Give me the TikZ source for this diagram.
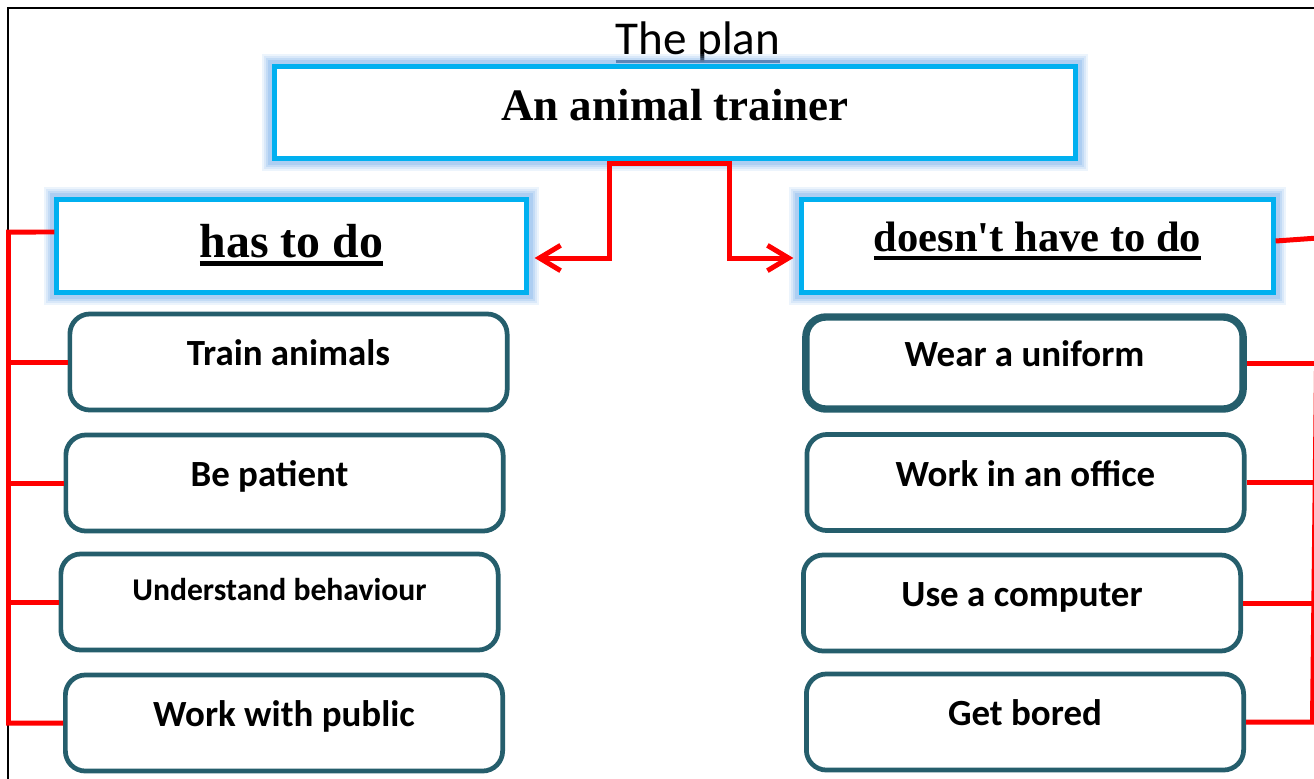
\documentclass[tikz,border=0pt]{standalone}
\usepackage{fontspec}
\setmainfont{Liberation Serif}
\newfontfamily\calibri{Carlito}
\usetikzlibrary{arrows.meta}

\definecolor{headblue}{RGB}{0,176,240}
\definecolor{glowblue}{RGB}{130,180,235}
\definecolor{boxteal}{RGB}{37,94,108}
\definecolor{wirered}{RGB}{255,0,0}
\definecolor{planline}{RGB}{25,45,85}

\newcommand{\headul}[1]{\sbox0{#1}\rlap{\rule[-2.4pt]{\wd0}{1.3pt}}\usebox0}
\newcommand{\planul}[1]{\sbox0{#1}\rlap{\textcolor{planline}{\rule[-2.5pt]{\wd0}{0.8pt}}}\usebox0}

\begin{document}
\begin{tikzpicture}[
    x=0.01cm, y=-0.01cm,
    hdbox/.style={
        draw=headblue, line width=1.42pt, fill=white, inner sep=0pt,
        preaction={draw=glowblue, line width=7.4pt, opacity=0.15},
        preaction={draw=glowblue, line width=6.2pt, opacity=0.18},
        preaction={draw=glowblue, line width=5pt, opacity=0.25},
        preaction={draw=glowblue, line width=3.8pt, opacity=0.35}},
    taskbox/.style={
        draw=boxteal, line width=1.35pt, fill=white, rounded corners=0.2cm,
        minimum width=4.37cm, minimum height=0.96cm, inner sep=0pt,
        font=\calibri\bfseries\fontsize{10.5pt}{12pt}\selectfont,
        text height=8pt, text depth=5.8pt},
    link/.style={
        {Straight Barb[length=6pt,width=7.2pt]}-{Straight Barb[length=6pt,width=7.2pt]},
        draw=wirered, line width=1.42pt,
        shorten <=1.7pt, shorten >=1.7pt},
    wire/.style={draw=wirered, line width=1.42pt}
]

\path[use as bounding box, clip] (0,0) rectangle (1314,778);
\draw[line width=0.6pt] (8,790) -- (8,8) -- (1330,8);

% headings
\node[anchor=base, font=\calibri\fontsize{13.4pt}{16pt}\selectfont] (plan) at (698,54.5) {\planul{The plan}};
\node[hdbox, minimum width=8cm, minimum height=0.91cm,
      font=\bfseries\fontsize{12.8pt}{15pt}\selectfont,
      text height=10pt, text depth=5.7pt] (top) at (675,112.5) {An animal trainer};
\node[hdbox, minimum width=4.69cm, minimum height=0.92cm,
      font=\bfseries\fontsize{13.6pt}{16pt}\selectfont,
      text height=11pt, text depth=4.7pt] (hasto) at (291.5,246) {\headul{has to do}};
\node[hdbox, minimum width=4.71cm, minimum height=0.92cm,
      font=\bfseries\fontsize{12.1pt}{14pt}\selectfont,
      text height=10pt, text depth=6.6pt] (hasnot) at (1037.5,246) {\headul{doesn\textquotesingle t have to do}};

% tasks
\node[taskbox] (do1) at (288.5,362) {Train animals};
\node[taskbox] (do2) at (284.5,483) {Be patient\hspace*{0.3cm}};
\node[taskbox, font=\calibri\bfseries\fontsize{9pt}{11pt}\selectfont,
      text height=6pt, text depth=6.6pt] (do3) at (279.5,602) {Understand behaviour};
\node[taskbox] (do4) at (284,723) {Work with public};

\node[taskbox, line width=2.1pt, minimum height=0.92cm] (not1) at (1024.5,363) {Wear a uniform};
\node[taskbox] (not2) at (1025.5,482.5) {Work in an office};
\node[taskbox] (not3) at (1022,603) {Use a computer};
\node[taskbox] (not4) at (1025,722) {Get bored};

% connectors
\draw[link] ([yshift=-0.12cm]hasto.east) -| ([xshift=-0.65cm,yshift=-0.03cm]top.south)
    -- ([xshift=0.54cm,yshift=-0.03cm]top.south) |- ([yshift=-0.12cm]hasnot.west);

\coordinate (lspine) at (8.5,232);
\draw[wire] ([yshift=0.14cm]hasto.west) -- (lspine) |- (do4.west);
\foreach \n in {1,2,3}
    \draw[wire] (do\n.west) -- (do\n.west -| lspine);

\coordinate (rspine) at (1318,238);
\coordinate (rfoot) at (1312.5,722);
\draw[wire] ([yshift=0.05cm]hasnot.east) -- (rspine) -- (rfoot) -- (not4.east);
\foreach \n in {1,2,3}
    \draw[wire] (not\n.east) -- ++(75,0);

\end{tikzpicture}
\end{document}
